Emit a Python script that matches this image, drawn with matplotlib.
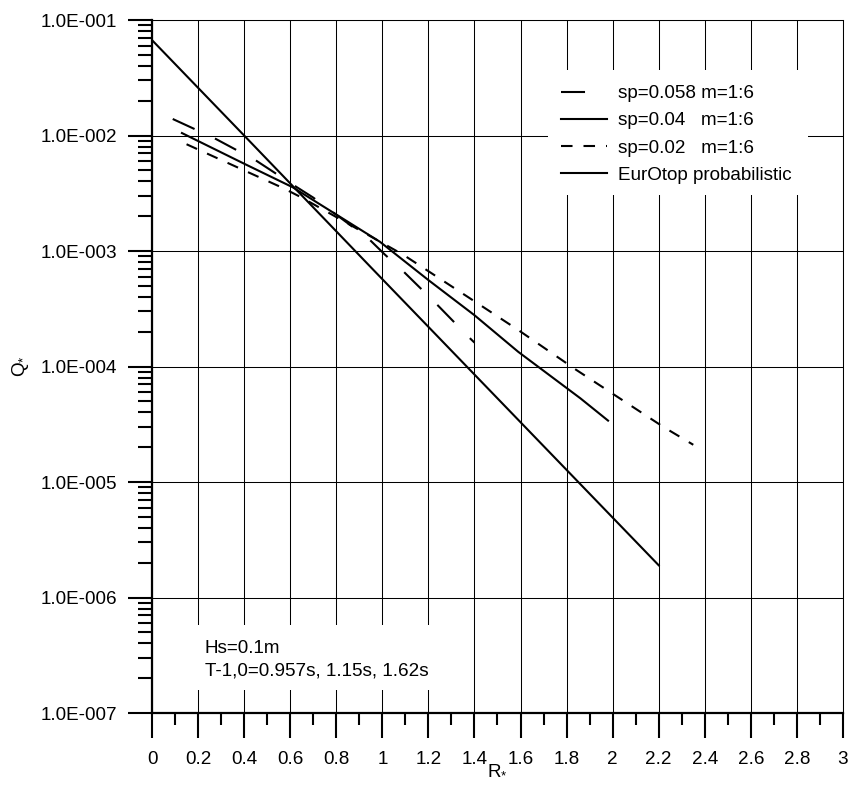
import matplotlib
matplotlib.use("Agg")
import matplotlib.pyplot as plt
from matplotlib.ticker import FixedLocator, FixedFormatter, LogLocator, NullFormatter, MultipleLocator
from matplotlib.patches import Rectangle

plt.rcParams['font.family'] = ['Liberation Sans', 'DejaVu Sans']
plt.rcParams['mathtext.fontset'] = 'custom'
plt.rcParams['mathtext.rm'] = 'Liberation Sans'
plt.rcParams['mathtext.it'] = 'Liberation Sans:italic'
plt.rcParams['lines.scale_dashes'] = False

# Dimensionless overtopping Q* versus relative freeboard R*
r_s058 = [0.09, 0.27, 0.45, 0.61, 0.70, 0.94, 1.01, 1.09, 1.23, 1.37, 1.40]
q_s058 = [1.39e-2, 9.5e-3, 6.1e-3, 3.77e-3, 2.90e-3, 1.28e-3, 9.35e-4, 6.7e-4,
          3.56e-4, 1.84e-4, 1.61e-4]

r_s040 = [0.13, 0.40, 0.61, 0.99, 1.20, 1.40, 1.59, 1.86, 1.98]
q_s040 = [1.05e-2, 5.7e-3, 3.57e-3, 1.20e-3, 5.6e-4, 2.78e-4, 1.34e-4, 5.3e-5, 3.4e-5]

r_s020 = [0.15, 0.57, 0.65, 1.09, 1.40, 1.59, 1.84, 2.22, 2.35]
q_s020 = [8.4e-3, 3.5e-3, 2.9e-3, 9.3e-4, 3.67e-4, 2.07e-4, 9.4e-5, 3.0e-5, 2.1e-5]

r_eurotop = [0.0, 0.40, 0.96, 2.20]
q_eurotop = [6.7e-2, 1.0e-2, 6.9e-4, 1.9e-6]

series_labels = ['sp=0.058 m=1:6', 'sp=0.04   m=1:6', 'sp=0.02   m=1:6',
                 'EurOtop probabilistic']

xtick_values = [0, 0.2, 0.4, 0.6, 0.8, 1, 1.2, 1.4, 1.6, 1.8, 2, 2.2, 2.4, 2.6, 2.8, 3]
xtick_labels = ['0', '0.2', '0.4', '0.6', '0.8', '1', '1.2', '1.4', '1.6', '1.8',
                '2', '2.2', '2.4', '2.6', '2.8', '3']
ytick_values = [1e-7, 1e-6, 1e-5, 1e-4, 1e-3, 1e-2, 1e-1]
ytick_labels = ['1.0E-007', '1.0E-006', '1.0E-005', '1.0E-004', '1.0E-003',
                '1.0E-002', '1.0E-001']

note_lines = ['Hs=0.1m', 'T-1,0=0.957s, 1.15s, 1.62s']

W, H = 853, 787
FS = 13.6

fig = plt.figure(figsize=(W / 100, H / 100), dpi=100)
ax = fig.add_axes([152 / W, 1 - 713 / H, (843 - 152) / W, (713 - 20) / H])

ax.set_yscale('log')
ax.set_xlim(0, 3)
ax.set_ylim(1e-7, 1e-1)

lw = 1.5
ax.plot(r_s058, q_s058, color='black', lw=lw, dashes=(17.3, 16.2), label=series_labels[0], zorder=3)
ax.plot(r_s040, q_s040, color='black', lw=lw, ls='-', label=series_labels[1], zorder=3)
ax.plot(r_s020, q_s020, color='black', lw=lw, dashes=(8.3, 7.9), label=series_labels[2], zorder=3)
ax.plot(r_eurotop, q_eurotop, color='black', lw=lw, ls='-', label=series_labels[3], zorder=3)

# grid and axes styling
ax.set_axisbelow(True)
ax.grid(True, which='major', color='black', lw=0.75)
for side in ('top', 'right'):
    ax.spines[side].set_linewidth(0.75)
for side in ('left', 'bottom'):
    ax.spines[side].set_linewidth(1.6)

ax.xaxis.set_major_locator(FixedLocator(xtick_values))
ax.xaxis.set_major_formatter(FixedFormatter(xtick_labels))
ax.xaxis.set_minor_locator(MultipleLocator(0.1))
ax.yaxis.set_major_locator(FixedLocator(ytick_values))
ax.yaxis.set_major_formatter(FixedFormatter(ytick_labels))
ax.yaxis.set_minor_locator(LogLocator(base=10, subs=range(2, 10), numticks=20))
ax.yaxis.set_minor_formatter(NullFormatter())

ax.tick_params(axis='x', which='major', direction='out', length=18, width=1.5,
               pad=9, labelsize=FS, colors='black')
ax.tick_params(axis='x', which='minor', direction='out', length=8.6, width=1.5)
ax.tick_params(axis='y', which='major', direction='out', length=17.3, width=1.5,
               pad=8, labelsize=FS, colors='black')
ax.tick_params(axis='y', which='minor', direction='out', length=10, width=1.5)

ax.set_xlabel(r'$\mathrm{R}_{\mathrm{*}}$', fontsize=FS)
ax.xaxis.set_label_coords(0.5, (713 - 761) / 693)
ax.xaxis.label.set_va('top')
ax.set_ylabel(r'$\mathrm{Q}_{\mathrm{*}}$', fontsize=FS)
ax.yaxis.set_label_coords((31 - 152) / 691, 0.5)

# white panels behind the legend and the note
ax.add_patch(Rectangle((548 / W, 1 - 195 / H), (808 - 548) / W, (195 - 70) / H,
                       transform=fig.transFigure, facecolor='white',
                       edgecolor='none', zorder=1))
ax.add_patch(Rectangle((190 / W, 1 - 690 / H), (450 - 190) / W, (690 - 625) / H,
                       transform=fig.transFigure, facecolor='white',
                       edgecolor='none', zorder=1))

leg = ax.legend(loc='upper left', bbox_to_anchor=(560.7 / W, 1 - 85 / H),
                bbox_transform=fig.transFigure, frameon=False, fontsize=FS,
                handlelength=2.45, handletextpad=0.6, labelspacing=0.53,
                borderpad=0, borderaxespad=0)
leg.set_zorder(4)

for i, line in enumerate(note_lines):
    fig.text(205 / W, 1 - (653 + 22 * i) / H, line, fontsize=FS,
             ha='left', va='baseline', zorder=5)

fig.savefig('out.png', dpi=100)
